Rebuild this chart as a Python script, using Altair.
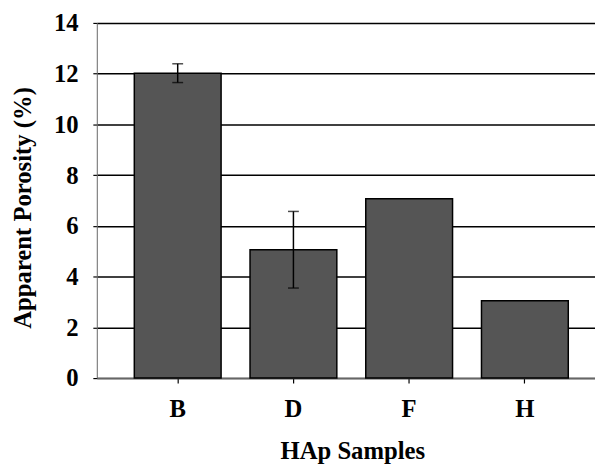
import altair as alt
import pandas as pd

samples = ["B", "D", "F", "H"]
porosity = [12.02, 5.06, 7.07, 3.05]
errors = [0.37, 1.51, 0.0, 0.0]

df = pd.DataFrame({"sample": samples, "value": porosity, "err": errors})
df["lo"] = df["value"] - df["err"]
df["hi"] = df["value"] + df["err"]

FONT = "Liberation Serif"

xscale = alt.Scale(domain=samples, paddingInner=0.25, paddingOuter=0.2775, align=0.584)
yscale = alt.Scale(domain=[0, 14], nice=False)

xaxis = alt.Axis(
    title="HAp Samples", labelAngle=0, labelFont=FONT, labelFontSize=25, labelFontWeight="bold",
    labelColor="black", labelPadding=14, labelBaseline="top",
    titleFont=FONT, titleFontSize=25, titleFontWeight="bold", titleColor="black",
    titleX=259, titleY=82, titleAlign="center", titleBaseline="alphabetic",
    domainColor="#666666", domainWidth=1.5, tickColor="black", tickSize=5, tickWidth=1.2,
    grid=False,
)
yaxis = alt.Axis(
    title="Apparent Porosity (%)", values=[0, 2, 4, 6, 8, 10, 12, 14],
    labelFont=FONT, labelFontSize=25, labelFontWeight="bold", labelColor="black", labelPadding=15,
    titleFont=FONT, titleFontSize=25, titleFontWeight="bold", titleColor="black",
    titleAngle=270, titleX=-67, titleY=187, titleAlign="center", titleBaseline="alphabetic",
    domainColor="#666666", domainWidth=1, tickColor="black", tickSize=4, tickWidth=1.2,
    grid=True, gridColor="black", gridWidth=1.5, gridOpacity=1,
)

base = alt.Chart(df)

bars = base.mark_bar(fill="#555555", stroke="black", strokeWidth=1.5).encode(
    x=alt.X("sample:N", scale=xscale, axis=xaxis, sort=samples),
    y=alt.Y("value:Q", scale=yscale, axis=yaxis),
)

err = base.transform_filter("datum.err > 0")
rules = err.mark_rule(color="black", strokeWidth=1.5).encode(
    x=alt.X("sample:N", scale=xscale, sort=samples),
    y="lo:Q",
    y2="hi:Q",
)
cap_hi = err.mark_tick(color="black", thickness=1.5, size=11, orient="horizontal").encode(
    x=alt.X("sample:N", scale=xscale, sort=samples),
    y="hi:Q",
)
cap_lo = err.mark_tick(color="black", thickness=1.5, size=11, orient="horizontal").encode(
    x=alt.X("sample:N", scale=xscale, sort=samples),
    y="lo:Q",
)

chart = alt.layer(bars, rules, cap_hi, cap_lo).properties(
    width=505, height=360,
    autosize=alt.AutoSizeParams(type="none"),
    padding={"left": 90, "top": 12, "right": 0, "bottom": 89},
    background="white",
).configure_view(stroke=None)

chart.save("out.html", embed_options={"renderer": "svg", "actions": False})
